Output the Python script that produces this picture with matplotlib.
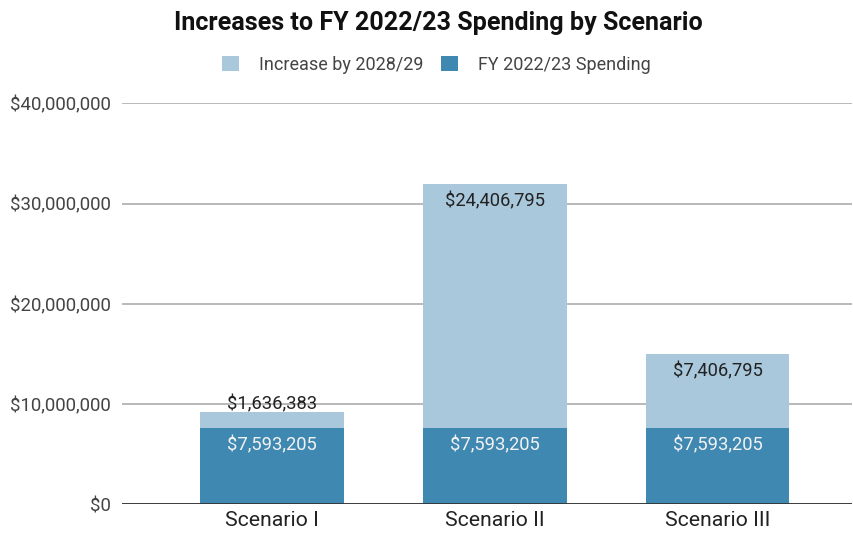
import matplotlib
matplotlib.use("Agg")
import matplotlib.pyplot as plt
from matplotlib.patches import Patch
from matplotlib.ticker import FuncFormatter, MultipleLocator

plt.rcParams['font.family'] = ['Roboto', 'DejaVu Sans']

scenarios = ["Scenario I", "Scenario II", "Scenario III"]
base_spending = [7593205, 7593205, 7593205]
increase = [1636383, 24406795, 7406795]
series_names = ["Increase by 2028/29", "FY 2022/23 Spending"]

dark_blue = "#3f88b2"
light_blue = "#a9c8dc"

fig = plt.figure(figsize=(8.54, 5.38), dpi=100)
ax = fig.add_axes([0.1429, 0.0623, 0.8548, 0.7457])

x = list(range(len(scenarios)))
width = 0.645
ax.bar(x, base_spending, width=width, color=dark_blue, zorder=3)
ax.bar(x, increase, width=width, bottom=base_spending, color=light_blue, zorder=3)

ax.set_ylim(0, 40_000_000)
ax.set_xlim(-0.673, 2.604)
ax.yaxis.set_major_locator(MultipleLocator(10_000_000))
ax.yaxis.set_major_formatter(FuncFormatter(lambda v, p: f"${v:,.0f}"))
ax.grid(axis='y', color="#b3b3b3", linewidth=1.3, zorder=0)
ax.axhline(0, color="#333333", linewidth=1.3, zorder=4)
for s in ax.spines.values():
    s.set_visible(False)
ax.tick_params(axis='y', length=0, pad=8, labelsize=13.4, labelcolor="#444444")
ax.tick_params(axis='x', length=0, pad=5, labelsize=15.3, labelcolor="#222222")
ax.set_xticks(x)
ax.set_xticklabels(scenarios)

# value labels near the top of each segment
label_size = 13.2
px_per_unit = (ax.get_position().height * fig.get_figheight() * fig.dpi) / 40_000_000
for xi, b, inc in zip(x, base_spending, increase):
    ax.annotate(f"${b:,.0f}", (xi, b), xytext=(0, -12.5), textcoords='offset points',
                ha='center', va='center', fontsize=label_size, color="#f2f2f2", zorder=5)
    seg_px = inc * px_per_unit
    if seg_px > 40:
        ax.annotate(f"${inc:,.0f}", (xi, b + inc), xytext=(0, -12.5), textcoords='offset points',
                    ha='center', va='center', fontsize=label_size, color="#222222", zorder=5)
    else:
        ax.annotate(f"${inc:,.0f}", (xi, b + inc), xytext=(0, 5.5), textcoords='offset points',
                    ha='center', va='center', fontsize=label_size, color="#222222", zorder=5)

fig.text(0.513, 0.958, "Increases to FY 2022/23 Spending by Scenario",
         ha='center', va='center', fontsize=18.1, fontweight='bold', color="#111111")

handles = [Patch(facecolor=light_blue, edgecolor='none'), Patch(facecolor=dark_blue, edgecolor='none')]
fig.legend(handles, series_names, loc='center', bbox_to_anchor=(0.511, 0.880), ncol=2,
           frameon=False, fontsize=13, handlelength=0.95, handleheight=0.95,
           handletextpad=1.1, columnspacing=1.0, labelcolor="#444444")

fig.savefig("out.png", dpi=100)
